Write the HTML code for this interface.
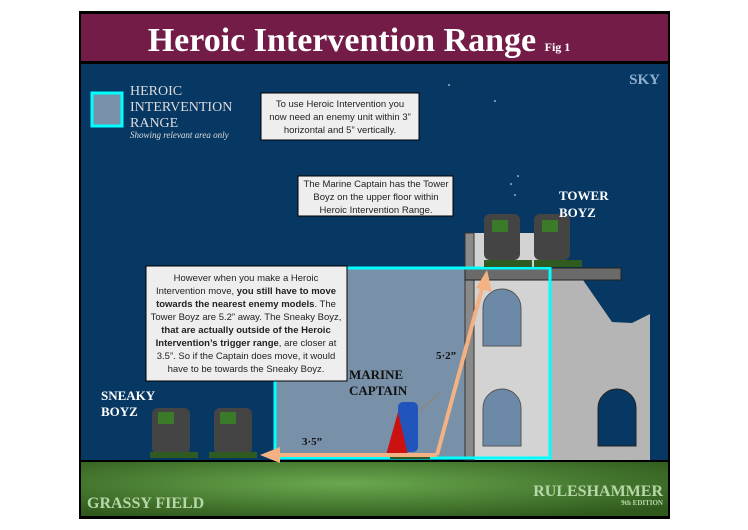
<!DOCTYPE html>
<html><head><meta charset="utf-8"><style>
body{margin:0;width:748px;height:530px;background:#fff;overflow:hidden}
svg{display:block}
.s{font-family:"Liberation Serif",serif;font-weight:bold}
.c{font-family:"Liberation Sans",sans-serif;font-size:9.5px;fill:#222}
</style></head><body>
<svg width="748" height="530" viewBox="0 0 748 530">
<defs>
<radialGradient id="g" cx="0.45" cy="0.4" r="0.7"><stop offset="0" stop-color="#6aa84f"/><stop offset="1" stop-color="#2f5a1c"/></radialGradient>
</defs>
<rect x="79" y="11" width="591" height="508" fill="#000"/>
<rect x="81" y="14" width="587" height="47" fill="#741c48"/>
<rect x="81" y="64" width="587" height="396" fill="#073763"/>
<rect x="81" y="462" width="587" height="54" fill="url(#g)"/>
<text x="359" y="51" text-anchor="middle" class="s" font-size="34" fill="#fff">Heroic Intervention Range <tspan font-size="12">Fig 1</tspan></text>
<text x="660" y="84" text-anchor="end" class="s" font-size="15" fill="#8fb0d0">SKY</text>
<rect x="92" y="93" width="30" height="33" fill="#7890a8" stroke="#00ffff" stroke-width="3"/>
<text font-family="Liberation Serif,serif" font-size="14" fill="#ddd"><tspan x="130" y="95">HEROIC</tspan><tspan x="130" y="111">INTERVENTION</tspan><tspan x="130" y="127">RANGE</tspan></text>
<text x="130" y="138" font-family="Liberation Serif,serif" font-style="italic" font-size="9" fill="#ddd">Showing relevant area only</text>
<g fill="#fff"><circle cx="449" cy="85" r="0.8"/><circle cx="495" cy="101" r="0.8"/><circle cx="518" cy="176" r="0.8"/><circle cx="511" cy="184" r="0.8"/><circle cx="515" cy="195" r="0.8"/></g>
<!-- range fill -->
<rect x="275" y="268" width="275" height="190" fill="#7890a8"/>
<!-- building -->
<polygon points="474,233 474,460 650,460 650,314 632,323 612,322 583,280 474,280" fill="#b5b5b5"/>
<rect x="474" y="233" width="76" height="227" fill="#d3d3d3"/>
<rect x="465" y="233" width="9" height="227" fill="#8a8a8a" stroke="#333" stroke-width="1"/>
<rect x="465" y="268" width="156" height="12" fill="#6a6a6a" stroke="#222" stroke-width="1"/>
<path d="M483,346 V308 A19,19 0 0 1 521,308 V346 Z" fill="#6c8aa8" stroke="#555"/>
<path d="M483,446 V408 A19,19 0 0 1 521,408 V446 Z" fill="#6c8aa8" stroke="#555"/>
<path d="M598,446 V408 A19,19 0 0 1 636,408 V446 Z" fill="#073763" stroke="#222"/>
<rect x="275" y="268" width="275" height="190" fill="none" stroke="#00ffff" stroke-width="3"/>
<!-- orks -->
<g>
<rect x="152" y="408" width="38" height="46" rx="6" fill="#444"/><rect x="158" y="412" width="16" height="12" fill="#3a7a28"/>
<rect x="150" y="452" width="48" height="6" fill="#2f5a20"/>
<rect x="214" y="408" width="38" height="46" rx="6" fill="#444"/><rect x="220" y="412" width="16" height="12" fill="#3a7a28"/>
<rect x="209" y="452" width="48" height="6" fill="#2f5a20"/>
<rect x="484" y="214" width="36" height="46" rx="6" fill="#444"/><rect x="492" y="220" width="16" height="12" fill="#3a7a28"/>
<rect x="484" y="260" width="48" height="7" fill="#2f5a20"/>
<rect x="534" y="214" width="36" height="46" rx="6" fill="#444"/><rect x="542" y="220" width="16" height="12" fill="#3a7a28"/>
<rect x="534" y="260" width="48" height="7" fill="#2f5a20"/>
</g>
<!-- captain -->
<rect x="398" y="402" width="20" height="50" rx="5" fill="#2255bb"/>
<polygon points="398,412 408,455 386,455" fill="#cc1111"/>
<line x1="420" y1="410" x2="440" y2="393" stroke="#888" stroke-width="2"/>
<rect x="390" y="454" width="40" height="5" fill="#2f5a20"/>
<!-- arrows -->
<g stroke="#f4b183" stroke-width="4" fill="none"><line x1="437" y1="455" x2="275" y2="455"/><line x1="437" y1="455" x2="483" y2="285"/></g>
<polygon points="260,455 280,447 280,463" fill="#f4b183"/>
<polygon points="487,270 492,292 476,288" fill="#f4b183"/>
<text x="302" y="445" class="s" font-size="11" fill="#111">3·5”</text>
<text x="436" y="359" class="s" font-size="11" fill="#111">5·2”</text>
<text class="s" font-size="13" fill="#111"><tspan x="349" y="379">MARINE</tspan><tspan x="349" y="395">CAPTAIN</tspan></text>
<text class="s" font-size="13" fill="#fff"><tspan x="101" y="400">SNEAKY</tspan><tspan x="101" y="416">BOYZ</tspan></text>
<text class="s" font-size="13" fill="#fff"><tspan x="559" y="200">TOWER</tspan><tspan x="559" y="217">BOYZ</tspan></text>
<text x="87" y="508" class="s" font-size="16" fill="#b6d7a8">GRASSY FIELD</text>
<text x="663" y="496" text-anchor="end" class="s" font-size="16" fill="#b6d7a8">RULESHAMMER</text>
<text x="663" y="505" text-anchor="end" class="s" font-size="7" fill="#b6d7a8">9th EDITION</text>
<!-- boxes -->
<rect x="261" y="93" width="158" height="47" fill="#eee" stroke="#000"/>
<text class="c" text-anchor="middle"><tspan x="340" y="107">To use Heroic Intervention you</tspan><tspan x="340" y="120">now need an enemy unit within 3”</tspan><tspan x="340" y="133">horizontal and 5” vertically.</tspan></text>
<rect x="298" y="176" width="155" height="40" fill="#eee" stroke="#000"/>
<text class="c" text-anchor="middle"><tspan x="376" y="187">The Marine Captain has the Tower</tspan><tspan x="376" y="200">Boyz on the upper floor within</tspan><tspan x="376" y="213">Heroic Intervention Range.</tspan></text>
<rect x="146" y="266" width="201" height="115" fill="#eee" stroke="#000"/>
<text class="c" text-anchor="middle" font-size="9.2"><tspan x="246" y="281">However when you make a Heroic</tspan><tspan x="246" y="294">Intervention move, <tspan font-weight="bold">you still have to move</tspan></tspan><tspan x="246" y="307"><tspan font-weight="bold">towards the nearest enemy models</tspan>. The</tspan><tspan x="246" y="320">Tower Boyz are 5.2” away. The Sneaky Boyz,</tspan><tspan x="246" y="333" font-weight="bold">that are actually outside of the Heroic</tspan><tspan x="246" y="346"><tspan font-weight="bold">Intervention’s trigger range</tspan>, are closer at</tspan><tspan x="246" y="359">3.5”. So if the Captain does move, it would</tspan><tspan x="246" y="372">have to be towards the Sneaky Boyz.</tspan></text>
</svg>
</body></html>
